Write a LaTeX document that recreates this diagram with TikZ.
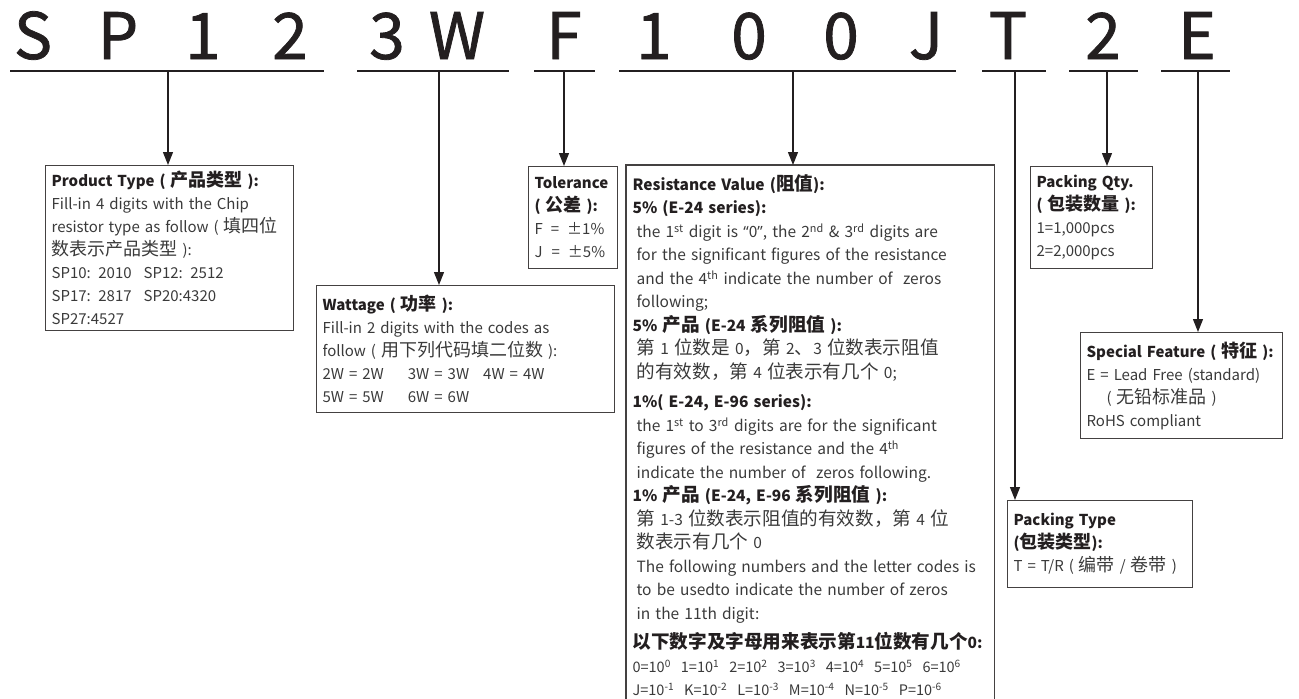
\documentclass[tikz,border=0pt]{standalone}
\usepackage{fontspec}
\setmainfont{Noto Sans CJK SC}
\newfontfamily\quotefont{Open Sans}
\newfontfamily\cjkfont[Scale=1.2]{Noto Sans CJK SC}
\newfontfamily\codefont[FakeBold=1.2]{Noto Sans CJK SC}
\usetikzlibrary{arrows.meta}
\definecolor{ink}{HTML}{231F20}
\definecolor{bodytext}{HTML}{3A3A3A}
\newcommand{\hd}[1]{{\color{ink}\bfseries #1}}
\newcommand{\zh}[1]{{\cjkfont #1}}
\newcommand{\ind}{\hspace*{4pt}}
\newcommand{\sq}[1]{\textsuperscript{#1}}
\newcommand{\gap}{\hspace{10pt}}

\begin{document}
\begin{tikzpicture}
  [x=1pt, y=-1pt,
  code/.style={font=\codefont\fontsize{64}{64}\selectfont, text=ink, anchor=base, inner sep=0pt},
  rule/.style={draw=ink, line width=1.3pt},
  line/.style={draw=ink, line width=1.3pt, -{Triangle[width=10pt,length=13pt]}},
  frame/.style={draw=ink!85, line width=1.2pt},
  block/.style={frame, anchor=north west, align=left, inner xsep=6pt, inner ysep=5pt,
    text=bodytext, font=\fontsize{15}{23}\selectfont}]
  \useasboundingbox (0,0) rectangle (1299,699);
  % code letters
  \node [code] (cS) at (33,59) {S};
  \node [code] (cP) at (118,59) {P};
  \node [code] (cA) at (203,59) {1};
  \node [code] (cB) at (290,59) {2};
  \node [code] (cC) at (387,59) {3};
  \node [code] (cW) at (457,59) {W};
  \node [code] (cF) at (564,59) {F};
  \node [code] (cD) at (654,59) {1};
  \node [code] (cE) at (749,59) {0};
  \node [code] (cG) at (841,59) {0};
  \node [code] (cJ) at (926,59) {J};
  \node [code] (cT) at (1008,59) {T};
  \node [code] (cQ) at (1103,59) {2};
  \node [code] (cX) at (1197,59) {E};
  % underlines
  \draw [rule] (10,71) -- (324,71);
  \draw [rule] (357,71) -- (509,71);
  \draw [rule] (534,71) -- (595,71);
  \draw [rule] (619,71) -- (956,71);
  \draw [rule] (982,71) -- (1046,71);
  \draw [rule] (1069,71) -- (1138,71);
  \draw [rule] (1161,71) -- (1230,71);
  \coordinate (uProd) at (168,71);
  \coordinate (uWatt) at (439,71);
  \coordinate (uTol) at (564,71);
  \coordinate (uRes) at (793,71);
  \coordinate (uPack) at (1015,71);
  \coordinate (uQty) at (1107,71);
  \coordinate (uSpec) at (1198,71);
  % boxes
  \node [block, text width=236pt, minimum height=165pt] (prod) at (45,165)
    {\hd{Product Type ( \zh{产品类型} ):}\\
     Fill-in 4 digits with the Chip\\
     resistor type as follow ( \zh{填四位}\\
     \zh{数表示产品类型} ):\\
     SP10: 2010\hspace{12pt}SP12: 2512\\
     SP17: 2817\hspace{12pt}SP20:4320\\
     SP27:4527};
  \node [block, text width=286pt, minimum height=127pt] (watt) at (316,285)
    {\hd{Wattage ( \zh{功率} ):}\\
     Fill-in 2 digits with the codes as\\
     follow ( \zh{用下列代码填二位数} ):\\
     2W = 2W\hspace{24pt}3W = 3W\hspace{14pt}4W = 4W\\
     5W = 5W\hspace{24pt}6W = 6W};
  \node [block, text width=77pt, minimum height=102pt] (tol) at (528,166)
    {\hd{Tolerance}\\
     \hd{( \zh{公差} ):}\\
     F\hspace{8pt}=\hspace{8pt}±1\%\\
     J\hspace{9pt}=\hspace{8pt}±5\%};
  \node [block, draw=none, text width=355pt, inner ysep=9pt,
    font=\fontsize{15.5}{23.5}\selectfont] (res) at (626,165)
    {\hd{Resistance Value (\zh{阻值}):}\\
     \hd{5\% (E-24 series):}\\
     \ind the 1\sq{st} digit is {\quotefont“}0{\quotefont”}, the 2\sq{nd} \& 3\sq{rd} digits are\\
     \ind for the significant figures of the resistance\\
     \ind and the 4\sq{th} indicate the number of \ zeros\\
     \ind following;\\
     \hd{5\% \zh{产品} (E-24 \zh{系列阻值} ):}\\
     \ind \zh{第} 1 \zh{位数是} 0\zh{，第} 2\zh{、}3 \zh{位数表示阻值}\\
     \ind \zh{的有效数，第} 4 \zh{位表示有几个} 0;\\[6pt]
     \hd{1\%( E-24, E-96 series):}\\
     \ind the 1\sq{st} to 3\sq{rd} digits are for the significant\\
     \ind figures of the resistance and the 4\sq{th}\\
     \ind indicate the number of \ zeros following.\\
     \hd{1\% \zh{产品} (E-24, E-96 \zh{系列阻值} ):}\\
     \ind \zh{第} 1-3 \zh{位数表示阻值的有效数，第} 4 \zh{位}\\
     \ind \zh{数表示有几个} 0\\
     \ind The following numbers and the letter codes is\\
     \ind to be usedto indicate the number of zeros\\
     \ind in the 11th digit:\\[6pt]
     \hd{\zh{以下数字及字母用来表示第}11\zh{位数有几个}0:}\\
     {\fontsize{14.5}{23.5}\selectfont 0=10\sq{0}\gap 1=10\sq{1}\gap 2=10\sq{2}\gap 3=10\sq{3}\gap 4=10\sq{4}\gap 5=10\sq{5}\gap 6=10\sq{6}}\\
     {\fontsize{14.5}{23.5}\selectfont J=10\sq{-1}\gap K=10\sq{-2}\gap L=10\sq{-3}\gap M=10\sq{-4}\gap N=10\sq{-5}\gap P=10\sq{-6}}};
  \draw [frame] (res.north west |- 0,710) -- (res.north west) -- (res.north east) -- (res.north east |- 0,710);
  \node [block, text width=110pt, minimum height=102pt] (qty) at (1030,166)
    {\hd{Packing Qty.}\\
     \hd{( \zh{包装数量} ):}\\
     1=1,000pcs\\
     2=2,000pcs};
  \node [block, text width=190pt, minimum height=106pt] (spec) at (1080,332)
    {\hd{Special Feature ( \zh{特征} ):}\\
     E = Lead Free (standard)\\
     \hspace{20pt}( \zh{无铅标准品} )\\
     RoHS compliant};
  \node [block, text width=173pt, minimum height=87pt] (ptype) at (1007,500)
    {\hd{Packing Type}\\
     \hd{(\zh{包装类型}):}\\
     T = T/R ( \zh{编带} / \zh{卷带} )};
  % edges
  \path [line] (uProd) -- (uProd |- prod.north);
  \path [line] (uWatt) -- (uWatt |- watt.north);
  \path [line] (uTol) -- (uTol |- tol.north);
  \path [line] (uRes) -- (uRes |- res.north);
  \path [line] (uPack) -- (uPack |- ptype.north);
  \path [line] (uQty) -- (uQty |- qty.north);
  \path [line] (uSpec) -- (uSpec |- spec.north);
\end{tikzpicture}
\end{document}
